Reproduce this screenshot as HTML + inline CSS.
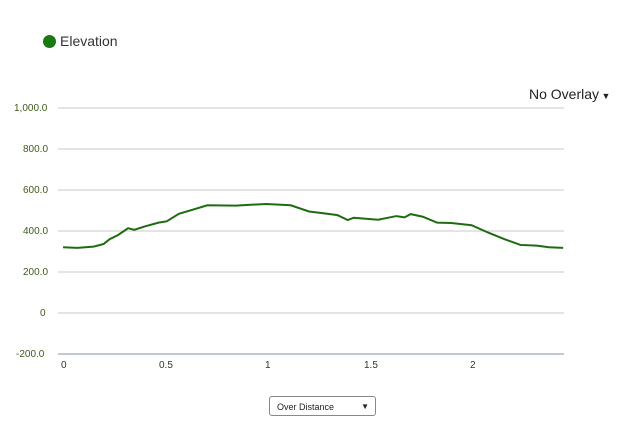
<!DOCTYPE html>
<html><head><meta charset="utf-8"><style>
body{margin:0;width:637px;height:442px;background:#fff;font-family:"Liberation Sans",sans-serif;position:relative;overflow:hidden}
.t{position:absolute;font-size:10px;color:#3d5a1e}
</style></head><body>
<div style="position:absolute;left:43px;top:35px;width:13px;height:13px;border-radius:50%;background:#1a7a12"></div>
<div style="position:absolute;left:60px;top:33px;font-size:14px;color:#333">Elevation</div>
<div style="position:absolute;left:529px;top:86px;font-size:14px;color:#222">No Overlay<span style="font-size:9px"> ▼</span></div>
<svg width="637" height="442" style="position:absolute;left:0;top:0">
<g stroke="#d3d3d3" stroke-width="1.3">
<line x1="58" x2="564" y1="108" y2="108"/><line x1="58" x2="564" y1="149" y2="149"/>
<line x1="58" x2="564" y1="190" y2="190"/><line x1="58" x2="564" y1="231" y2="231"/>
<line x1="58" x2="564" y1="272" y2="272"/><line x1="58" x2="564" y1="313" y2="313"/>
</g>
<line x1="58" x2="564" y1="354" y2="354" stroke="#9aa8c8" stroke-width="1.3"/>
<g transform="translate(0,180) scale(0.4066,0.328)">
<polyline fill="none" stroke="#1f6b12" stroke-width="2" vector-effect="non-scaling-stroke" points="155,205 190,207 230,203 240,200 255,195 270,180 290,168 315,147 330,152 355,142 390,130 410,126 440,103 470,92 510,77 580,78 655,73 715,77 760,96 800,102 830,107 855,122 870,115 900,118 930,121 975,110 995,114 1010,104 1040,112 1075,130 1110,131 1160,138 1200,160 1240,180 1280,198 1320,200 1350,205 1385,207"/>
</g>
</svg>
<div class="t" style="left:14px;top:103px">1,000.0</div>
<div class="t" style="left:23px;top:144px">800.0</div>
<div class="t" style="left:23px;top:185px">600.0</div>
<div class="t" style="left:23px;top:226px">400.0</div>
<div class="t" style="left:23px;top:267px">200.0</div>
<div class="t" style="left:40px;top:308px">0</div>
<div class="t" style="left:16px;top:349px">-200.0</div>
<div class="t" style="left:61px;top:360px;color:#333">0</div>
<div class="t" style="left:159px;top:360px;color:#333">0.5</div>
<div class="t" style="left:265px;top:360px;color:#333">1</div>
<div class="t" style="left:364px;top:360px;color:#333">1.5</div>
<div class="t" style="left:470px;top:360px;color:#333">2</div>
<div style="position:absolute;left:269px;top:396px;width:107px;height:20px;border:1px solid #888;border-radius:3px;font-size:9px;line-height:20px;box-sizing:border-box;padding-left:7px;color:#222">Over Distance<span style="position:absolute;right:6px;font-size:8px">▼</span></div>
</body></html>
